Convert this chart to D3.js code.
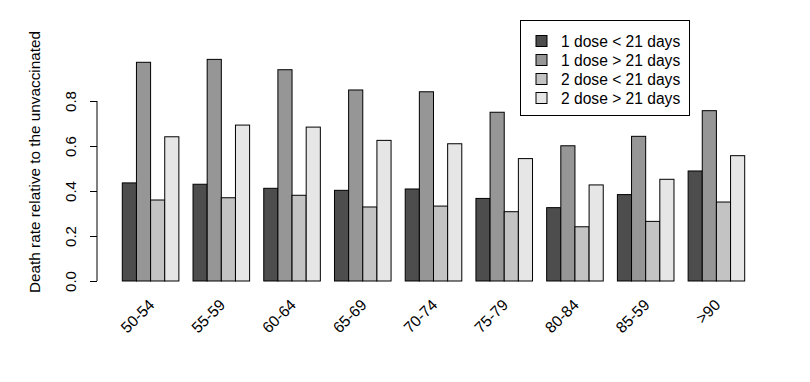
<!DOCTYPE html>
<html><head><meta charset="utf-8">
<script src="https://cdn.jsdelivr.net/npm/d3@7"></script>
<style>body{margin:0;background:#fff}svg{display:block}text{font-family:"Liberation Sans",Arial,sans-serif;fill:#000}</style>
</head><body><svg id="c" width="810" height="382"></svg>
<script>
const categories = ["50-54","55-59","60-64","65-69","70-74","75-79","80-84","85-59",">90"];
const seriesNames = ["1 dose < 21 days","1 dose > 21 days","2 dose < 21 days","2 dose > 21 days"];
const dose1Under21 = [0.436,0.430,0.412,0.403,0.409,0.367,0.326,0.384,0.489];
const dose1Over21  = [0.972,0.985,0.939,0.849,0.841,0.750,0.601,0.643,0.757];
const dose2Under21 = [0.360,0.370,0.381,0.329,0.333,0.308,0.241,0.265,0.351];
const dose2Over21  = [0.641,0.693,0.684,0.625,0.610,0.544,0.427,0.452,0.557];
const yTicks = [0,0.2,0.4,0.6,0.8];
const colors = ["#4D4D4D","#969696","#C3C3C3","#E6E6E6"];
const seriesValues = [dose1Under21,dose1Over21,dose2Under21,dose2Over21];

const svg = d3.select("#c");
const x0 = d3.scaleBand().domain(categories).range([122.3,744.7]).paddingInner(0.2).paddingOuter(0);
const x1 = d3.scaleBand().domain(d3.range(4)).range([0,x0.bandwidth()]).padding(0);
const y = d3.scaleLinear().domain([0,1]).range([281,56]);

const g = svg.append("g").selectAll("g").data(categories).join("g")
  .attr("transform",d=>`translate(${x0(d)},0)`);
g.selectAll("rect").data((d,i)=>seriesValues.map((s,k)=>({k,v:s[i]}))).join("rect")
  .attr("x",d=>x1(d.k)).attr("width",x1.bandwidth())
  .attr("y",d=>y(d.v)).attr("height",d=>y(0)-y(d.v))
  .attr("fill",d=>colors[d.k]).attr("stroke","#000").attr("stroke-width",1);

// y axis
const ax = svg.append("g").attr("transform","translate(97,0)")
  .call(d3.axisLeft(y).tickValues(yTicks).tickSize(7).tickSizeOuter(0).tickFormat(d3.format(".1f")));
ax.select(".domain").attr("d",`M0,${y(0)}V${y(0.8)}`).attr("stroke","#000");
ax.selectAll(".tick line").attr("stroke","#000");
ax.selectAll(".tick text").attr("transform","rotate(-90)").attr("x",0).attr("y",-21).attr("dy",0)
  .attr("text-anchor","middle").style("font-size","15px").style("font-family","Liberation Sans, Arial, sans-serif").attr("fill","#000");

// y label
svg.append("text").attr("transform","translate(40,162) rotate(-90)").attr("text-anchor","middle")
  .style("font-size","15.3px").text("Death rate relative to the unvaccinated");

// x labels
svg.append("g").selectAll("text").data(categories).join("text")
  .attr("transform",d=>`translate(${x0(d)+x0.bandwidth()/2+1},302) rotate(-45)`)
  .attr("text-anchor","end").attr("dy","0.35em").style("font-size","15.6px").text(d=>d);

// legend
const lg = svg.append("g");
lg.append("rect").attr("x",520.5).attr("y",20.5).attr("width",169).attr("height",95).attr("fill","#fff").attr("stroke","#000");
const li = lg.selectAll("g").data(seriesNames).join("g").attr("transform",(d,i)=>`translate(0,${41+i*19})`);
li.append("rect").attr("x",536).attr("y",-5.5).attr("width",11).attr("height",11).attr("fill",(d,i)=>colors[i]).attr("stroke","#000");
li.append("text").attr("x",561).attr("y",0).attr("dy","0.36em").style("font-size","15.6px").text(d=>d);
</script></body></html>
